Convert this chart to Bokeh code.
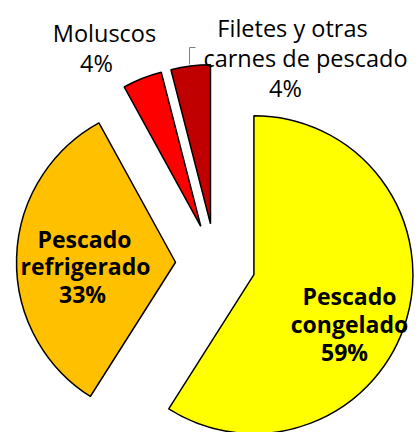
import math
from bokeh.plotting import figure
from bokeh.models import Range1d, ColumnDataSource
from bokeh.core.properties import value
from bokeh.embed import file_html
from bokeh.resources import INLINE

# ---- data ----
categories = ["Pescado congelado", "Pescado refrigerado", "Moluscos",
              "Filetes y otras carnes de pescado"]
shares = [59, 33, 4, 4]
colors = ["#FFFF00", "#FFC000", "#FF0000", "#C00000"]

W, H = 416, 432
CX, CY, R, EXPLODE = 215, 432 - 263, 159, 40

total = float(sum(shares))
starts, ends, xs, ys = [], [], [], []
cum = 0.0
for v in shares:
    a0 = math.pi / 2 - 2 * math.pi * (cum + v) / total
    a1 = math.pi / 2 - 2 * math.pi * cum / total
    mid = (a0 + a1) / 2
    starts.append(a0)
    ends.append(a1)
    xs.append(CX + EXPLODE * math.cos(mid))
    ys.append(CY + EXPLODE * math.sin(mid))
    cum += v

src = ColumnDataSource(dict(x=xs, y=ys, start=starts, end=ends, color=colors,
                            cat=categories))

p = figure(width=W, height=H, output_backend="svg", toolbar_location=None,
           x_range=Range1d(0, W), y_range=Range1d(0, H), min_border=0)
p.axis.visible = False
p.grid.visible = False
p.outline_line_color = None
p.background_fill_color = "white"

p.wedge(x="x", y="y", radius=R, start_angle="start", end_angle="end",
        fill_color="color", line_color="black", line_width=1.5, source=src)

FONT = value("Open Sans")

def sx(x):
    return x

def sy(y):
    return H - y

bold_txt = ["Pescado", "congelado", f"{shares[0]}%",
            "Pescado", "refrigerado", f"{shares[1]}%"]
bold_x = [sx(349), sx(349), sx(344), sx(84), sx(85), sx(82)]
bold_y = [sy(295), sy(323), sy(351), sy(238), sy(265), sy(293)]
p.text(x=bold_x, y=bold_y, text=bold_txt, text_font=FONT,
       text_font_style="bold", text_font_size="23px", text_align="center",
       text_baseline="alphabetic", text_color="black")

out_txt = ["Moluscos", f"{shares[2]}%", "Filetes y otras",
           "carnes de pescado", f"{shares[3]}%"]
out_x = [sx(104), sx(96), sx(292), sx(305), sx(285)]
out_y = [sy(32), sy(62), sy(27), sy(57), sy(87)]
p.text(x=out_x, y=out_y, text=out_txt, text_font=FONT,
       text_font_size="23.5px", text_align="center",
       text_baseline="alphabetic", text_color="black")

p.line(x=[sx(189), sx(189), sx(195)], y=[sy(64), sy(47), sy(47)],
       line_color="#808080", line_width=1)

open("out.html", "w").write(file_html(p, INLINE))
